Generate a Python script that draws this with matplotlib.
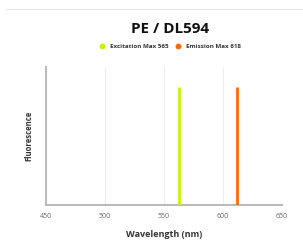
import matplotlib
matplotlib.use("Agg")
import matplotlib.pyplot as plt
from matplotlib.lines import Line2D

plt.rcParams['font.family'] = ['Open Sans', 'DejaVu Sans']

title = "PE / DL594"
series_names = ["Excitation Max 565", "Emission Max 618"]
line_positions = [563, 612]
line_heights = [1.0, 1.0]
colors = ["#c6f500", "#ff6a00"]
xticks = [450, 500, 550, 600, 650]

fig = plt.figure(figsize=(3.03, 2.40), dpi=100)
ax = fig.add_axes([0.152, 0.146, 0.779, 0.575])

for x, h, c in zip(line_positions, line_heights, colors):
    ax.vlines(x, 0, h, color=c, linewidth=2.0, zorder=3)

ax.set_xlim(450, 650)
ax.set_ylim(0, 1.17)
ax.set_xticks(xticks)
ax.set_xticklabels([str(t) for t in xticks], fontsize=5, color="#666666")
ax.set_yticks([])
ax.tick_params(axis='x', length=0, pad=6)
ax.grid(axis='x', color="#eeeeee", linewidth=0.8)
ax.set_axisbelow(True)
for s in ['top', 'right']:
    ax.spines[s].set_visible(False)
for s in ['left', 'bottom']:
    ax.spines[s].set_color("#bbbbbb")
    ax.spines[s].set_linewidth(1.5)

ax.set_xlabel("Wavelength (nm)", fontsize=6.5, fontweight='bold', color="#333333", labelpad=7)
ax.set_ylabel("Fluorescence", fontsize=5.5, fontweight='bold', color="#333333", labelpad=9)

fig.text(0.561, 0.878, title, ha='center', va='center', fontsize=11, fontweight='bold', color="#111111")

handles = [Line2D([0], [0], marker='o', linestyle='none', markersize=3.2,
                  markerfacecolor=c, markeredgecolor=c) for c in colors]
fig.legend(handles, series_names, loc='center', bbox_to_anchor=(0.561, 0.808), ncol=2,
           frameon=False, prop={'size': 4.5, 'weight': 'bold'}, labelcolor="#333333",
           handlelength=1.0, handletextpad=0.8, columnspacing=1.1)

fig.add_artist(Line2D([0.02, 1.0], [0.962, 0.962], color="#e6e6e6", linewidth=0.8))

fig.savefig("out.png", dpi=100)
